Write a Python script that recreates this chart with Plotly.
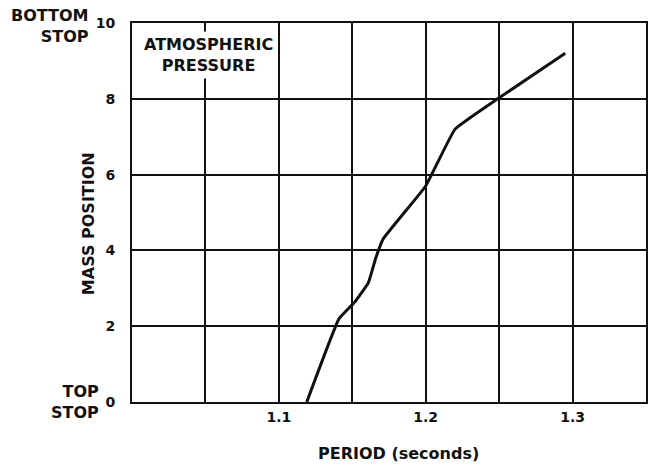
import plotly.graph_objects as go

# Mass position vs. oscillation period at atmospheric pressure
period_s = [1.119, 1.141, 1.152, 1.161, 1.166, 1.171, 1.200, 1.220, 1.249, 1.295]
mass_position = [0.0, 2.2, 2.65, 3.15, 3.8, 4.3, 5.7, 7.2, 8.0, 9.2]

x_grid = [1.05, 1.10, 1.15, 1.20, 1.25, 1.30]
x_tick_text = ["", "1.1", "", "1.2", "", "1.3"]
y_grid = [0, 2, 4, 6, 8, 10]
y_tick_text = ["0", "2", "4", "6", "8", "10"]

FONT = "DejaVu Sans, Liberation Sans, Arial, sans-serif"
INK = "#111111"

# plot-area geometry in pixels (used to place the outside labels)
L, R, T, B, W, H = 132, 3, 23, 68, 651, 470
PW, PH = W - L - R, H - T - B


def px_to_paper(px, py):
    return (px - L) / PW, (H - B - py) / PH


fig = go.Figure()
fig.add_trace(go.Scatter(
    x=period_s, y=mass_position, mode="lines",
    line=dict(color=INK, width=3, shape="spline", smoothing=0.3),
    hoverinfo="skip", showlegend=False,
))

fig.update_layout(
    width=W, height=H,
    margin=dict(l=L, r=R, t=T, b=B),
    paper_bgcolor="white", plot_bgcolor="white",
    font=dict(family=FONT, color=INK),
    xaxis=dict(
        range=[1.0, 1.35], tickvals=x_grid, ticktext=x_tick_text,
        showgrid=True, gridcolor=INK, gridwidth=2,
        showline=True, linecolor=INK, linewidth=2, mirror=True,
        ticks="", zeroline=False, ticklabelstandoff=1,
        tickfont=dict(size=14, family=FONT, color=INK, weight="bold"),
    ),
    yaxis=dict(
        range=[0, 10], tickvals=y_grid, ticktext=y_tick_text,
        showgrid=True, gridcolor=INK, gridwidth=2,
        showline=True, linecolor=INK, linewidth=2, mirror=True,
        ticks="", zeroline=False, ticklabelstandoff=12,
        tickfont=dict(size=14, family=FONT, color=INK, weight="bold"),
    ),
)

# In-plot caption with a white box that masks the grid behind it
cx, cy = px_to_paper(209, 55)
fig.add_annotation(
    x=cx, y=cy, xref="paper", yref="paper",
    xanchor="center", yanchor="middle",
    text="<b>ATMOSPHERIC<br>PRESSURE</b>", showarrow=False,
    font=dict(size=16, family=FONT, color=INK),
    bgcolor="white", borderpad=3, align="center",
)

# Axis titles
px, py = px_to_paper(400, 453)
fig.add_annotation(
    x=px, y=py, xref="paper", yref="paper",
    xanchor="center", yanchor="middle", showarrow=False,
    text="<b>PERIOD (seconds)</b>",
    font=dict(size=16, family=FONT, color=INK),
)
px, py = px_to_paper(88, 224)
fig.add_annotation(
    x=px, y=py, xref="paper", yref="paper",
    xanchor="center", yanchor="middle", showarrow=False, textangle=-90,
    text="<b>MASS POSITION</b>",
    font=dict(size=16, family=FONT, color=INK),
)

# Stop labels beside the ends of the position scale
px, py = px_to_paper(91, 26)
fig.add_annotation(
    x=px, y=py, xref="paper", yref="paper", xanchor="right", yanchor="middle",
    showarrow=False, align="right",
    text="<b>BOTTOM<br>STOP</b>",
    font=dict(size=16, family=FONT, color=INK),
)
px, py = px_to_paper(101, 402)
fig.add_annotation(
    x=px, y=py, xref="paper", yref="paper", xanchor="right", yanchor="middle",
    showarrow=False, align="right",
    text="<b>TOP<br>STOP</b>",
    font=dict(size=16, family=FONT, color=INK),
)

fig.write_html("out.html")
